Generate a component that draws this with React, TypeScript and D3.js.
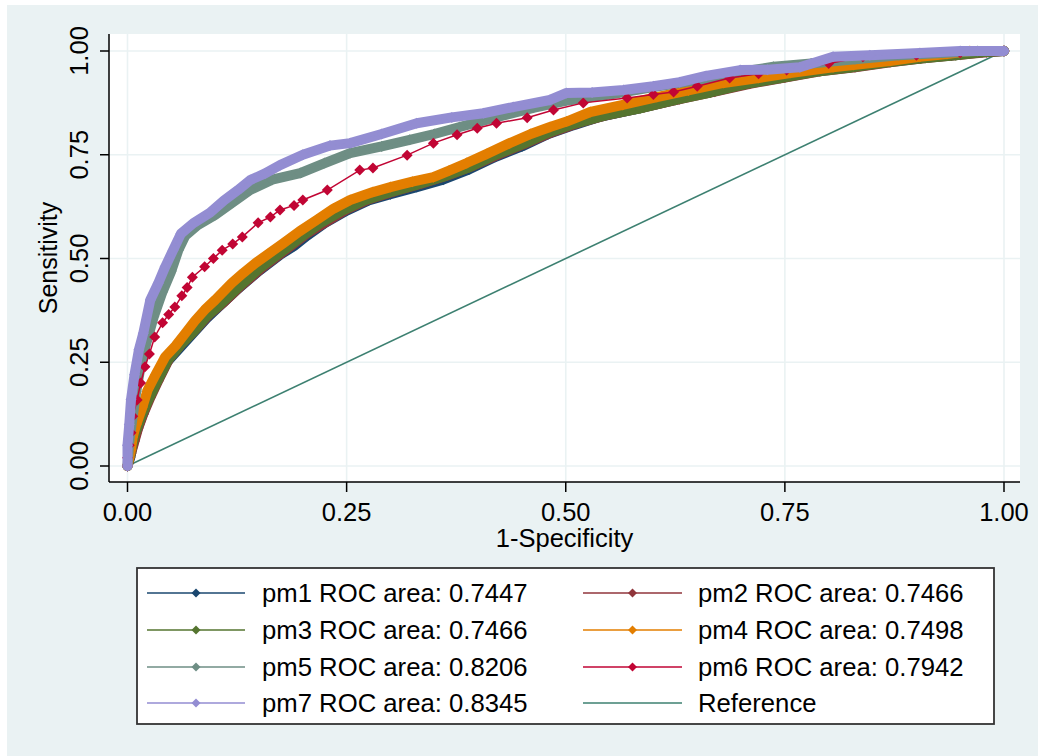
import React from "react";
import * as d3 from "d3";

// ROC curve points: [1 - specificity, sensitivity]
const pm1: [number, number][] = [[0,0],[0.003,0.02],[0.006,0.05],[0.01,0.08],[0.015,0.11],[0.022,0.15],[0.03,0.19],[0.045,0.25],[0.06,0.285],[0.075,0.32],[0.09,0.355],[0.105,0.385],[0.125,0.425],[0.15,0.47],[0.175,0.51],[0.19,0.53],[0.205,0.555],[0.225,0.585],[0.25,0.615],[0.275,0.64],[0.3,0.655],[0.33,0.672],[0.36,0.69],[0.39,0.715],[0.42,0.745],[0.45,0.77],[0.48,0.8],[0.51,0.822],[0.54,0.842],[0.58,0.86],[0.62,0.88],[0.66,0.9],[0.7,0.92],[0.74,0.935],[0.78,0.95],[0.82,0.96],[0.86,0.972],[0.9,0.982],[0.94,0.99],[0.97,0.997],[1,1]];
const pm2: [number, number][] = [[0,0],[0.004,0.03],[0.008,0.06],[0.012,0.09],[0.018,0.125],[0.026,0.165],[0.035,0.205],[0.048,0.26],[0.062,0.295],[0.078,0.33],[0.093,0.365],[0.11,0.395],[0.13,0.435],[0.155,0.48],[0.18,0.52],[0.205,0.56],[0.228,0.59],[0.25,0.618],[0.275,0.642],[0.305,0.662],[0.335,0.68],[0.365,0.7],[0.395,0.724],[0.425,0.752],[0.455,0.778],[0.485,0.805],[0.515,0.827],[0.55,0.847],[0.59,0.865],[0.63,0.884],[0.67,0.902],[0.71,0.921],[0.75,0.936],[0.79,0.951],[0.83,0.961],[0.87,0.973],[0.91,0.983],[0.95,0.991],[0.98,0.997],[1,1]];
const pm3: [number, number][] = [[0,0],[0.003,0.025],[0.006,0.055],[0.01,0.085],[0.016,0.12],[0.024,0.16],[0.033,0.2],[0.046,0.255],[0.06,0.29],[0.076,0.325],[0.09,0.36],[0.106,0.39],[0.126,0.43],[0.15,0.475],[0.175,0.515],[0.2,0.555],[0.22,0.585],[0.245,0.615],[0.27,0.64],[0.3,0.66],[0.33,0.678],[0.36,0.697],[0.39,0.72],[0.42,0.75],[0.45,0.775],[0.48,0.803],[0.51,0.825],[0.545,0.845],[0.585,0.862],[0.625,0.882],[0.665,0.9],[0.705,0.92],[0.745,0.935],[0.785,0.95],[0.825,0.96],[0.865,0.972],[0.905,0.982],[0.945,0.99],[0.975,0.997],[1,1]];
const pm4: [number, number][] = [[0,0],[0.002,0.02],[0.004,0.04],[0.006,0.07],[0.01,0.1],[0.017,0.142],[0.023,0.183],[0.032,0.22],[0.043,0.263],[0.055,0.29],[0.066,0.32],[0.077,0.35],[0.088,0.376],[0.1,0.4],[0.119,0.441],[0.132,0.465],[0.146,0.489],[0.16,0.51],[0.178,0.537],[0.196,0.565],[0.216,0.593],[0.235,0.62],[0.254,0.641],[0.28,0.66],[0.3,0.672],[0.325,0.685],[0.349,0.696],[0.367,0.712],[0.387,0.73],[0.41,0.752],[0.436,0.778],[0.46,0.8],[0.482,0.817],[0.501,0.83],[0.528,0.853],[0.565,0.87],[0.604,0.889],[0.64,0.905],[0.68,0.923],[0.72,0.935],[0.756,0.947],[0.805,0.961],[0.828,0.966],[0.87,0.976],[0.904,0.986],[0.935,0.993],[0.961,1],[1,1]];
const pm5: [number, number][] = [[0,0],[0.002,0.06],[0.006,0.12],[0.01,0.18],[0.015,0.24],[0.022,0.3],[0.03,0.36],[0.04,0.42],[0.05,0.47],[0.058,0.52],[0.066,0.555],[0.08,0.58],[0.1,0.605],[0.12,0.635],[0.14,0.665],[0.165,0.69],[0.197,0.706],[0.225,0.73],[0.254,0.754],[0.29,0.77],[0.322,0.786],[0.35,0.8],[0.379,0.817],[0.42,0.84],[0.463,0.863],[0.5,0.88],[0.55,0.895],[0.6,0.913],[0.65,0.93],[0.7,0.95],[0.737,0.962],[0.78,0.97],[0.83,0.98],[0.88,0.99],[0.93,0.995],[0.97,1],[1,1]];
const pm6: [number, number][] = [[0,0],[0,0.02],[0.002,0.05],[0.004,0.08],[0.006,0.12],[0.011,0.159],[0.015,0.2],[0.02,0.239],[0.025,0.27],[0.031,0.311],[0.04,0.345],[0.047,0.365],[0.054,0.383],[0.062,0.41],[0.068,0.43],[0.074,0.455],[0.088,0.48],[0.098,0.5],[0.108,0.52],[0.12,0.535],[0.131,0.552],[0.149,0.586],[0.163,0.6],[0.174,0.617],[0.19,0.628],[0.2,0.641],[0.228,0.665],[0.265,0.713],[0.28,0.718],[0.319,0.749],[0.349,0.778],[0.376,0.798],[0.399,0.814],[0.421,0.826],[0.456,0.839],[0.486,0.858],[0.52,0.875],[0.57,0.887],[0.6,0.895],[0.623,0.901],[0.65,0.915],[0.687,0.935],[0.72,0.945],[0.752,0.954],[0.8,0.97],[0.839,0.986],[0.9,0.99],[0.95,0.996],[1,1]];
const pm7: [number, number][] = [[0,0],[0,0.05],[0.002,0.1],[0.004,0.16],[0.008,0.22],[0.013,0.28],[0.018,0.32],[0.026,0.4],[0.035,0.44],[0.043,0.48],[0.052,0.52],[0.061,0.56],[0.075,0.585],[0.094,0.61],[0.11,0.64],[0.126,0.665],[0.14,0.689],[0.157,0.705],[0.174,0.725],[0.2,0.75],[0.231,0.772],[0.254,0.778],[0.29,0.8],[0.33,0.826],[0.37,0.84],[0.406,0.85],[0.44,0.865],[0.482,0.882],[0.501,0.899],[0.53,0.9],[0.566,0.906],[0.6,0.915],[0.63,0.925],[0.66,0.94],[0.699,0.954],[0.73,0.955],[0.767,0.961],[0.805,0.986],[0.847,0.99],[0.904,0.995],[0.95,1],[1,1]];
const referenceLine: [number, number][] = [[0,0],[1,1]];

const seriesNames = ["pm1", "pm2", "pm3", "pm4", "pm5", "pm6", "pm7"];
const rocAreas = ["0.7447", "0.7466", "0.7466", "0.7498", "0.8206", "0.7942", "0.8345"];
const seriesColors = ["#1a476f", "#90353b", "#55752f", "#e37e00", "#6e8e84", "#c10534", "#938dd2"];
const seriesData = [pm1, pm2, pm3, pm4, pm5, pm6, pm7];
const denseSeries = [true, true, true, true, true, false, true];
const referenceColor = "#3d8071";

const tickValues = [0, 0.25, 0.5, 0.75, 1];
const tickLabels = ["0.00", "0.25", "0.50", "0.75", "1.00"];

const W = 1038;
const H = 756;
const plot = { left: 109, right: 1020, top: 34, bottom: 482 };
const FONT = "'Liberation Sans', Arial, Helvetica, sans-serif";
const BG = "#eaf2f3";

const x = d3.scaleLinear().domain([0, 1]).range([127.5, 1004]);
const y = d3.scaleLinear().domain([0, 1]).range([466, 51]);

const line = d3
  .line<[number, number]>()
  .x((d) => x(d[0]))
  .y((d) => y(d[1]));

const diamond = (cx: number, cy: number, r: number) =>
  `M${cx},${cy - r}L${cx + r},${cy}L${cx},${cy + r}L${cx - r},${cy}Z`;

export default function App() {
  const legendRows = [
    { col: 0, row: 0, i: 0 },
    { col: 1, row: 0, i: 1 },
    { col: 0, row: 1, i: 2 },
    { col: 1, row: 1, i: 3 },
    { col: 0, row: 2, i: 4 },
    { col: 1, row: 2, i: 5 },
    { col: 0, row: 3, i: 6 },
  ];
  const legendColX = [
    { x0: 147, x1: 245, tx: 262 },
    { x0: 583, x1: 682, tx: 698 },
  ];
  const legendRowY = [593, 630, 667, 703];

  return (
    <svg
      width={W}
      height={H}
      style={{ position: "absolute", left: 0, top: 0, display: "block" }}
      fontFamily={FONT}
    >
      <rect x={0} y={0} width={W} height={H} fill="#ffffff" />
      <rect x={7} y={5} width={W - 7} height={H - 5} fill={BG} />
      <rect
        x={plot.left}
        y={plot.top}
        width={plot.right - plot.left}
        height={plot.bottom - plot.top}
        fill="#ffffff"
      />

      {/* grid */}
      {tickValues.map((t, k) => (
        <g key={"g" + k}>
          <line x1={plot.left} x2={plot.right} y1={y(t)} y2={y(t)} stroke={BG} strokeWidth={1.6} />
          <line x1={x(t)} x2={x(t)} y1={plot.top} y2={plot.bottom} stroke={BG} strokeWidth={1.6} />
        </g>
      ))}

      {/* reference diagonal */}
      <path d={line(referenceLine) || ""} fill="none" stroke={referenceColor} strokeWidth={1.6} />

      {/* ROC curves: dense marker runs are drawn as a wide band */}
      {seriesData.map((data, i) => (
        <g key={"s" + i}>
          {denseSeries[i] && (
            <path
              d={line(data) || ""}
              fill="none"
              stroke={seriesColors[i]}
              strokeWidth={10}
              strokeLinejoin="round"
              strokeLinecap="round"
            />
          )}
          <path d={line(data) || ""} fill="none" stroke={seriesColors[i]} strokeWidth={1.5} />
          {data.map((d, k) => (
            <path key={k} d={diamond(x(d[0]), y(d[1]), 5.5)} fill={seriesColors[i]} />
          ))}
        </g>
      ))}

      {/* axes */}
      <line x1={plot.left} x2={plot.left} y1={plot.top} y2={plot.bottom} stroke="#000" strokeWidth={1.5} />
      <line x1={plot.left} x2={plot.right} y1={plot.bottom} y2={plot.bottom} stroke="#000" strokeWidth={1.5} />
      {tickValues.map((t, k) => (
        <g key={"t" + k}>
          <line x1={plot.left - 9} x2={plot.left} y1={y(t)} y2={y(t)} stroke="#000" strokeWidth={1.5} />
          <text
            transform={`translate(88,${y(t)}) rotate(-90)`}
            textAnchor="middle"
            fontSize={25.5}
            fill="#000"
          >
            {tickLabels[k]}
          </text>
          <line x1={x(t)} x2={x(t)} y1={plot.bottom} y2={plot.bottom + 10} stroke="#000" strokeWidth={1.5} />
          <text x={x(t)} y={521} textAnchor="middle" fontSize={25.5} fill="#000">
            {tickLabels[k]}
          </text>
        </g>
      ))}
      <text
        transform={`translate(57,${(plot.top + plot.bottom) / 2}) rotate(-90)`}
        textAnchor="middle"
        fontSize={25}
        fill="#000"
      >
        Sensitivity
      </text>
      <text x={(plot.left + plot.right) / 2} y={547} textAnchor="middle" fontSize={25.5} fill="#000">
        1-Specificity
      </text>

      {/* legend */}
      <rect x={137} y={568} width={857} height={156} fill="#ffffff" stroke="#333" strokeWidth={1.8} />
      {legendRows.map(({ col, row, i }) => {
        const c = legendColX[col];
        const ly = legendRowY[row];
        return (
          <g key={"l" + i}>
            <line x1={c.x0} x2={c.x1} y1={ly} y2={ly} stroke={seriesColors[i]} strokeWidth={1.6} />
            <path d={diamond((c.x0 + c.x1) / 2, ly, 4.5)} fill={seriesColors[i]} />
            <text x={c.tx} y={ly + 9} fontSize={25.7} fill="#000">
              {`${seriesNames[i]} ROC area: ${rocAreas[i]}`}
            </text>
          </g>
        );
      })}
      <line
        x1={legendColX[1].x0}
        x2={legendColX[1].x1}
        y1={legendRowY[3]}
        y2={legendRowY[3]}
        stroke={referenceColor}
        strokeWidth={1.6}
      />
      <text x={legendColX[1].tx} y={legendRowY[3] + 9} fontSize={25.7} fill="#000">
        Reference
      </text>
    </svg>
  );
}
